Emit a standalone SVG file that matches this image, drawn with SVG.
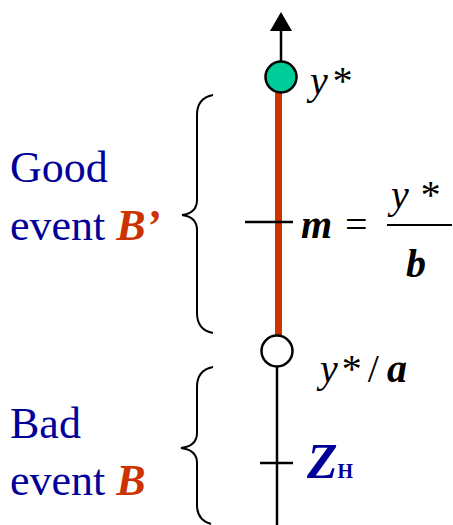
<svg xmlns="http://www.w3.org/2000/svg" width="453" height="525" viewBox="0 0 453 525">
<g id="connectors" stroke="#000" stroke-width="2.5" fill="none">
<line x1="281" y1="62" x2="281" y2="30"/>
<path d="M270,31 L292,31 L281,12 z" fill="#000" stroke="none"/>
<line x1="278.5" y1="93" x2="278.5" y2="335" stroke="#cc3300" stroke-width="7"/>
<line x1="277" y1="366" x2="277" y2="525"/>
<line x1="245" y1="222" x2="293" y2="222"/>
<line x1="260" y1="463" x2="293" y2="463"/>
</g>
<g id="node-ystar">
<circle cx="281" cy="77" r="15.5" fill="#00cc99" stroke="#000" stroke-width="2.5"/>
<text style="font-family:'Liberation Serif',serif !important" font-size="40" font-style="italic" x="310" y="94">y<tspan dx="3">*</tspan></text>
</g>
<g id="node-m">
<text style="font-family:'Liberation Serif',serif !important" font-size="40" font-style="italic" font-weight="bold" x="301" y="238">m</text>
<text style="font-family:'Liberation Serif',serif !important" font-size="40" x="345" y="238">=</text>
<line x1="387" y1="225" x2="452" y2="225" stroke="#000" stroke-width="2"/>
<text style="font-family:'Liberation Serif',serif !important" font-size="40" font-style="italic" x="391" y="208">y<tspan dx="10">*</tspan></text>
<text style="font-family:'Liberation Serif',serif !important" font-size="40" font-style="italic" font-weight="bold" x="406" y="277">b</text>
</g>
<g id="node-ya">
<circle cx="277" cy="351" r="15.5" fill="#fff" stroke="#000" stroke-width="2.5"/>
<text style="font-family:'Liberation Serif',serif !important" font-size="40" x="320" y="382"><tspan font-style="italic">y</tspan><tspan dx="4">*</tspan><tspan dx="6">/</tspan><tspan font-style="italic" font-weight="bold" dx="8">a</tspan></text>
</g>
<g id="node-zh">
<text style="font-family:'Liberation Serif',serif !important" x="307" y="478" font-weight="bold" fill="#000099"><tspan font-size="50" font-style="italic">Z</tspan><tspan font-size="20">H</tspan></text>
</g>
<g id="node-good">
<text style="font-family:'Liberation Serif',serif !important" font-size="44" fill="#000099" x="10" y="182">Good</text>
<text style="font-family:'Liberation Serif',serif !important" font-size="44" fill="#000099" x="10" y="240">event <tspan fill="#cc3300" font-weight="bold" font-style="italic">B&#8217;</tspan></text>
<path fill="none" stroke="#000" stroke-width="2" d="M213,95 Q197,98 197,115 L197,200 Q197,213 182,215 Q197,217 197,230 L197,313 Q197,330 213,333"/>
</g>
<g id="node-bad">
<text style="font-family:'Liberation Serif',serif !important" font-size="44" fill="#000099" x="10" y="438">Bad</text>
<text style="font-family:'Liberation Serif',serif !important" font-size="44" fill="#000099" x="10" y="495">event <tspan fill="#cc3300" font-weight="bold" font-style="italic">B</tspan></text>
<path fill="none" stroke="#000" stroke-width="2" d="M213,367 Q197,370 197,387 L197,433 Q197,446 181,448 Q197,450 197,463 L197,505 Q197,520 211,524"/>
</g>
</svg>
